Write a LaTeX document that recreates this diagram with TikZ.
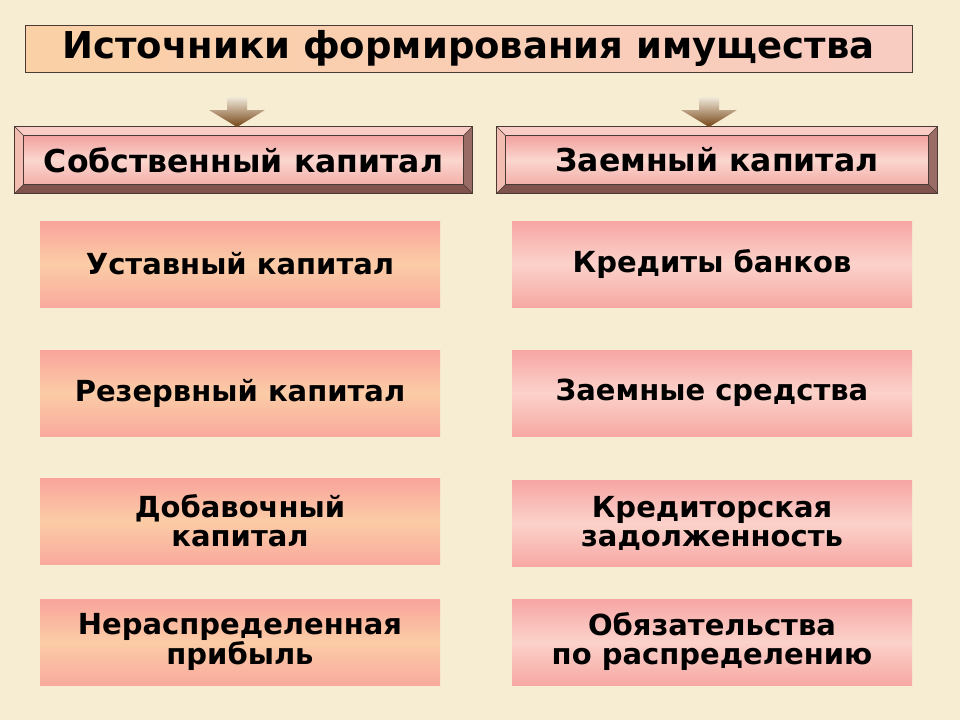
\documentclass[tikz,border=0pt]{standalone}
\usepackage{fontspec}
\setmainfont{DejaVu Sans}
\usetikzlibrary{calc}
\pgfdeclarelayer{back}
\pgfdeclarelayer{paper}
\pgfsetlayers{paper,back,main}
\definecolor{bg}{HTML}{F6EDD2}
\definecolor{titleL}{HTML}{FAD0A6}
\definecolor{titleR}{HTML}{F9CCC2}
\definecolor{edge}{HTML}{4A3A34}
\definecolor{faceT}{HTML}{F2A2A0}
\definecolor{faceM}{HTML}{FBD6CE}
\definecolor{faceB}{HTML}{F3B0AA}
\definecolor{bevT}{HTML}{F8CCC4}
\definecolor{bevL}{HTML}{F2BCB0}
\definecolor{bevR}{HTML}{9A6C66}
\definecolor{bevB}{HTML}{80544C}
\definecolor{leafLT}{HTML}{F9A49C}
\definecolor{leafLM}{HTML}{FBCCA6}
\definecolor{leafLB}{HTML}{F9AA9E}
\definecolor{leafRT}{HTML}{F7A6A4}
\definecolor{leafRM}{HTML}{FBD2CA}
\definecolor{leafRB}{HTML}{F7A8A4}
\definecolor{arrT}{HTML}{F2EADB}
\definecolor{arrB}{HTML}{744416}
\tikzset{
  titlebox/.style={draw=edge, line width=0.8pt, left color=titleL, right color=titleR,
    minimum width=887pt, minimum height=47pt, inner sep=0pt,
    font=\bfseries\fontsize{37}{40}\selectfont},
  bevelbox/.style={minimum height=66pt, inner sep=0pt,
    font=\bfseries\fontsize{31.5}{34}\selectfont},
  leafL/.style={minimum width=400pt, minimum height=86pt, inner sep=0pt, align=center,
    top color=leafLT, bottom color=leafLB, middle color=leafLM,
    font=\bfseries\fontsize{29}{29}\selectfont},
  leafR/.style={minimum width=400pt, minimum height=86pt, inner sep=0pt, align=center,
    top color=leafRT, bottom color=leafRB, middle color=leafRM,
    font=\bfseries\fontsize{29}{29}\selectfont},
  blockarrow/.style={top color=arrT, bottom color=arrB}
}
\begin{document}
\begin{tikzpicture}[x=1pt,y=-1pt]
\begin{pgfonlayer}{paper}
\fill[bg] (0,0) rectangle (960,720);
\end{pgfonlayer}
\useasboundingbox (0,0) rectangle (960,720);

\node[titlebox] (title) at (468.5,48.5) {Источники формирования имущества};

\node[bevelbox, minimum width=457pt] (own) at (243.5,160) {\raisebox{-2pt}{Собственный капитал}};
\node[bevelbox, minimum width=440pt] (loan) at (717,160) {\raisebox{-2pt}{Заемный капитал}};

\begin{pgfonlayer}{back}
\foreach \n in {own,loan}{
  \fill[bevT] (\n.north west) -- (\n.north east) -- ($(\n.north east)+(-9,9)$) -- ($(\n.north west)+(9,9)$) -- cycle;
  \fill[bevL] (\n.north west) -- ($(\n.north west)+(9,9)$) -- ($(\n.south west)+(9,-9)$) -- (\n.south west) -- cycle;
  \fill[bevR] (\n.north east) -- ($(\n.north east)+(-9,9)$) -- ($(\n.south east)+(-9,-9)$) -- (\n.south east) -- cycle;
  \fill[bevB] (\n.south west) -- ($(\n.south west)+(9,-9)$) -- ($(\n.south east)+(-9,-9)$) -- (\n.south east) -- cycle;
  \shade[top color=faceT, bottom color=faceB, middle color=faceM]
    ($(\n.north west)+(9,9)$) rectangle ($(\n.south east)+(-9,-9)$);
  \draw[edge, line width=0.8pt] (\n.north west) rectangle (\n.south east);
  \draw[edge, line width=0.8pt] ($(\n.north west)+(9,9)$) rectangle ($(\n.south east)+(-9,-9)$);
  \draw[edge, line width=0.5pt] (\n.north west) -- ($(\n.north west)+(9,9)$)
    (\n.north east) -- ($(\n.north east)+(-9,9)$)
    (\n.south west) -- ($(\n.south west)+(9,-9)$)
    (\n.south east) -- ($(\n.south east)+(-9,-9)$);
}
\end{pgfonlayer}

\coordinate (a1) at (237,127);
\coordinate (a2) at (709,127);
\foreach \a in {a1,a2}{
  \shade[blockarrow] ($(\a)+(-10,-30)$) -- ($(\a)+(10,-30)$) -- ($(\a)+(10,-17)$) -- ($(\a)+(28,-17)$)
    -- (\a) -- ($(\a)+(-28,-17)$) -- ($(\a)+(-10,-17)$) -- cycle;
}

\node[leafL] (l1) at (240,264) {Уставный капитал};
\node[leafL] (l2) at (240,393) {Резервный капитал};
\node[leafL] (l3) at (240,521) {Добавочный\\капитал};
\node[leafL] (l4) at (240,642) {Нераспределенная\\прибыль};

\node[leafR] (r1) at (712,264) {Кредиты банков};
\node[leafR] (r2) at (712,393) {Заемные средства};
\node[leafR] (r3) at (712,523.5) {Кредиторская\\задолженность};
\node[leafR] (r4) at (712,642) {Обязательства\\по распределению};
\end{tikzpicture}
\end{document}
